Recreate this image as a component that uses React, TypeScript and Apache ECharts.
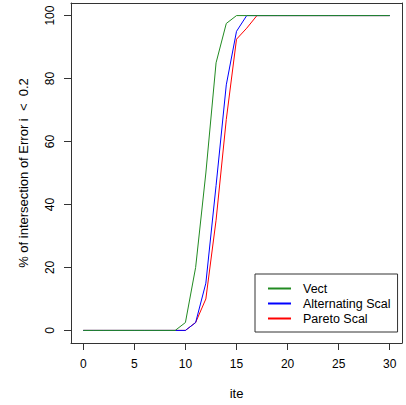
import React, { useEffect, useRef } from "react";
import * as echarts from "echarts";

const iterations: number[] = Array.from({ length: 31 }, (_, i) => i);
const vect: number[] = [0, 0, 0, 0, 0, 0, 0, 0, 0, 0, 2.5, 20, 50, 85, 97.5, 100, 100, 100, 100, 100, 100, 100, 100, 100, 100, 100, 100, 100, 100, 100, 100];
const alternating: number[] = [0, 0, 0, 0, 0, 0, 0, 0, 0, 0, 0, 2.5, 15, 46, 78, 95, 100, 100, 100, 100, 100, 100, 100, 100, 100, 100, 100, 100, 100, 100, 100];
const pareto: number[] = [0, 0, 0, 0, 0, 0, 0, 0, 0, 0, 0, 2.5, 10, 35, 67, 92.5, 96, 100, 100, 100, 100, 100, 100, 100, 100, 100, 100, 100, 100, 100, 100];
const xTicks: number[] = [0, 5, 10, 15, 20, 25, 30];
const yTicks: number[] = [0, 20, 40, 60, 80, 100];
const seriesNames: string[] = ["Vect", "Alternating Scal", "Pareto Scal"];
const seriesColors: string[] = ["#228B22", "#0000FF", "#FF0000"];

const FONT = "'Liberation Sans', Arial, sans-serif";
const FRAME = "#333";

export default function App() {
  const ref = useRef<HTMLDivElement>(null);
  useEffect(() => {
    if (!ref.current) return;
    const chart = echarts.init(ref.current, undefined, { renderer: "svg" });
    const values = [vect, alternating, pareto];
    const frameAxis = {
      type: "value",
      axisLine: { show: true, onZero: false, lineStyle: { color: FRAME, width: 1 } },
      axisTick: { show: false },
      axisLabel: { show: false },
      splitLine: { show: false },
    };
    chart.setOption({
      animation: false,
      backgroundColor: "#fff",
      textStyle: { fontFamily: FONT },
      grid: {
        left: 71,
        top: 3,
        right: 4,
        bottom: 62,
        show: false,
        outerBoundsMode: "none",
      },
      legend: {
        orient: "vertical",
        left: 255,
        top: 274,
        data: seriesNames,
        borderColor: FRAME,
        borderWidth: 1,
        borderRadius: 0,
        padding: [8, 7, 7, 12],
        itemWidth: 23,
        itemHeight: 14,
        itemGap: 2,
        itemStyle: { opacity: 0 },
        backgroundColor: "#fff",
        textStyle: { fontFamily: FONT, fontSize: 12.5, color: "#000", padding: [0, 0, 0, 7] },
      },
      xAxis: [
        {
          type: "value",
          min: -1.2,
          max: 31.2,
          name: "ite",
          nameLocation: "middle",
          nameGap: 44,
          nameTextStyle: { fontFamily: FONT, fontSize: 13, color: "#000" },
          axisLine: { show: true, onZero: false, lineStyle: { color: FRAME, width: 1 } },
          splitLine: { show: false },
          axisTick: { show: true, customValues: xTicks, length: 7, lineStyle: { color: FRAME } },
          axisLabel: { customValues: xTicks, margin: 15, fontFamily: FONT, fontSize: 12, color: "#000" },
        },
        { ...frameAxis, position: "top", min: -1.2, max: 31.2 },
      ],
      yAxis: [
        {
          type: "value",
          min: -4,
          max: 104,
          name: "% of intersection of Error i  <  0.2",
          nameLocation: "middle",
          nameRotate: 90,
          nameGap: 41,
          nameTextStyle: { fontFamily: FONT, fontSize: 13, color: "#000" },
          axisLine: { show: true, onZero: false, lineStyle: { color: FRAME, width: 1 } },
          splitLine: { show: false },
          axisTick: { show: true, customValues: yTicks, length: 7, lineStyle: { color: FRAME } },
          axisLabel: { customValues: yTicks, margin: 15, rotate: 90, fontFamily: FONT, fontSize: 12, color: "#000" },
        },
        { ...frameAxis, position: "right", min: -4, max: 104 },
      ],
      series: seriesNames.map((name, k) => ({
        name,
        type: "line",
        xAxisIndex: 0,
        yAxisIndex: 0,
        data: iterations.map((x, i) => [x, values[k][i]]),
        showSymbol: false,
        symbol: "none",
        lineStyle: { color: seriesColors[k], width: 1 },
        itemStyle: { color: seriesColors[k] },
        z: 3 - k,
      })),
    });
    return () => chart.dispose();
  }, []);
  return (
    <div
      ref={ref}
      style={{ position: "fixed", left: 0, top: 0, width: 406, height: 405, background: "#fff" }}
    />
  );
}
